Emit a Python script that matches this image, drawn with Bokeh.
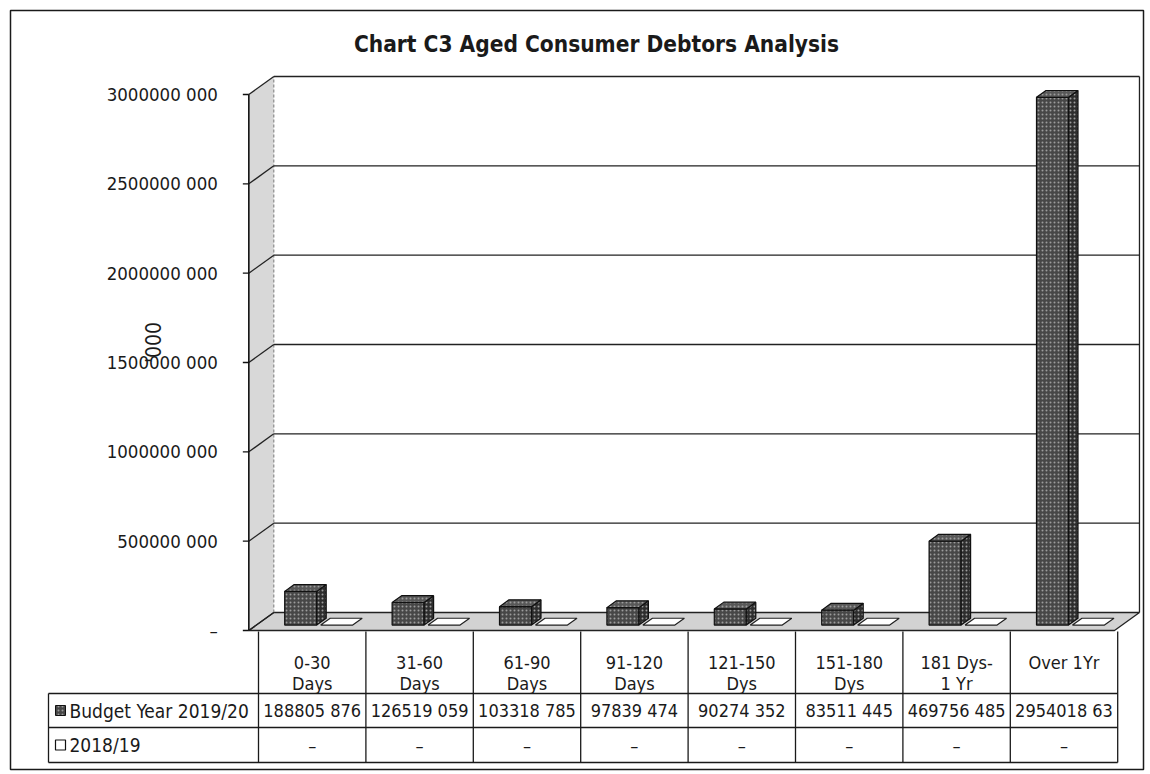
from math import pi

from bokeh.plotting import figure
from bokeh.models import Range1d
from bokeh.core.properties import value
from bokeh.embed import file_html
from bokeh.resources import INLINE

# ---- data -------------------------------------------------------------
categories = ["0-30\nDays", "31-60\nDays", "61-90\nDays", "91-120\nDays",
              "121-150\nDys", "151-180\nDys", "181 Dys-\n1 Yr", "Over 1Yr"]
budget_2019_20 = [188805876, 126519059, 103318785, 97839474,
                  90274352, 83511445, 469756485, 2954018630]
prior_2018_19 = [0, 0, 0, 0, 0, 0, 0, 0]
y_ticks = [0, 500000000, 1000000000, 1500000000,
           2000000000, 2500000000, 3000000000]
series_names = ["Budget Year 2019/20", "2018/19"]
title_text = "Chart C3 Aged Consumer Debtors Analysis"
axis_title = "'000"

FONT = value("DejaVu Sans Condensed")
CELL_CHARS = 10  # data-table cells show at most this many characters


def fmt(v):
    """Accounting style: thousands split off by a space, zero as a dash."""
    if v == 0:
        return "\u2013"
    return f"{v // 1000} {v % 1000:03d}"


# ---- page geometry ----------------------------------------------------
W, H = 1150, 774
CAT_PX = 107.4      # pixels per category slot
CAT0_PX = 311.7     # pixel x of the first category centre
ZERO_PX = 630       # pixel y of the value 0 on the front plane
TOP_PX = 94         # pixel y of the top tick on the front plane
VMAX = y_ticks[-1]
YPX = (ZERO_PX - TOP_PX) / VMAX


def ux(px):
    return px / CAT_PX


def uy(px):
    return px / YPX


DEPTH_X, DEPTH_Y = ux(25), uy(18)   # 3-D depth of the plot box
AX = -0.59                            # front axis position (category units)
RX = 7.47                             # right end of the floor
F1, F2 = 0.30, 0.68                   # depth fractions of the column slab

p = figure(width=W, height=H,
           x_range=Range1d(-CAT0_PX / CAT_PX, (W - CAT0_PX) / CAT_PX),
           y_range=Range1d(-(H - ZERO_PX) / YPX, ZERO_PX / YPX),
           x_axis_type=None, y_axis_type=None,
           toolbar_location=None, output_backend="svg",
           min_border=0, outline_line_color=None,
           background_fill_color="white", border_fill_color="white")
p.extra_x_ranges = {"px": Range1d(0, W)}
p.extra_y_ranges = {"px": Range1d(H, 0)}
PX = dict(x_range_name="px", y_range_name="px")

# ---- outer chart border ----------------------------------------------
p.quad(left=[10], right=[1143], top=[10], bottom=[769], fill_color=None,
       line_color="#1a1a1a", line_width=1.5, **PX)

# ---- walls and floor -------------------------------------------------
p.patch([AX, AX, AX + DEPTH_X, AX + DEPTH_X],
        [0, VMAX, VMAX + DEPTH_Y, DEPTH_Y],
        fill_color="#d8d8d8", line_color=None)
p.patch([AX + DEPTH_X, RX + DEPTH_X, RX + DEPTH_X, AX + DEPTH_X],
        [DEPTH_Y, DEPTH_Y, VMAX + DEPTH_Y, VMAX + DEPTH_Y],
        fill_color="white", line_color=None)
p.patch([AX, RX, RX + DEPTH_X, AX + DEPTH_X],
        [0, 0, DEPTH_Y, DEPTH_Y],
        fill_color="#d2d2d2", line_color="#222222", line_width=1.3)
# back wall edges
p.segment(x0=[AX + DEPTH_X], y0=[DEPTH_Y], x1=[AX + DEPTH_X],
          y1=[VMAX + DEPTH_Y], line_color="#777777", line_dash="3 2")
p.segment(x0=[RX + DEPTH_X], y0=[DEPTH_Y], x1=[RX + DEPTH_X],
          y1=[VMAX + DEPTH_Y], line_color="#222222", line_width=1.3)

# gridlines on the back wall and the side wall
grid_vals = y_ticks[1:]
p.segment(x0=[AX + DEPTH_X] * len(grid_vals), y0=[v + DEPTH_Y for v in grid_vals],
          x1=[RX + DEPTH_X] * len(grid_vals), y1=[v + DEPTH_Y for v in grid_vals],
          line_color="#222222", line_width=1.3)
p.segment(x0=[AX] * len(y_ticks), y0=y_ticks,
          x1=[AX + DEPTH_X] * len(y_ticks), y1=[v + DEPTH_Y for v in y_ticks],
          line_color="#222222", line_width=1.3)

# value axis
p.segment(x0=[AX], y0=[0], x1=[AX], y1=[VMAX], line_color="#111111",
          line_width=1.6)
p.segment(x0=[AX - ux(6)] * len(y_ticks), y0=y_ticks,
          x1=[AX] * len(y_ticks), y1=y_ticks, line_color="#111111",
          line_width=1.3)
p.text(x=[AX - ux(31)] * len(y_ticks), y=y_ticks,
       text=[fmt(v) for v in y_ticks], text_align="right",
       text_baseline="middle", text_font=FONT, text_font_size="18.5px",
       text_color="#1a1a1a")
p.text(x=[153], y=[342], text=[axis_title], angle=pi / 2,
       text_align="center", text_baseline="middle", text_font=FONT,
       text_font_size="21px", text_color="#1a1a1a", **PX)


# ---- 3-D columns -----------------------------------------------------
def slab(c, v, l_px, r_px):
    L, R = c + ux(l_px), c + ux(r_px)
    x1, y1 = F1 * DEPTH_X, F1 * DEPTH_Y
    x2, y2 = F2 * DEPTH_X, F2 * DEPTH_Y
    front = ([L + x1, R + x1, R + x1, L + x1], [y1, y1, v + y1, v + y1])
    side = ([R + x1, R + x2, R + x2, R + x1], [y1, y2, v + y2, v + y1])
    top = ([L + x1, R + x1, R + x2, L + x2], [v + y1, v + y1, v + y2, v + y2])
    return front, side, top


fronts, sides, tops, plates = [], [], [], []
for i, (vb, vp) in enumerate(zip(budget_2019_20, prior_2018_19)):
    f, s, t = slab(i, vb, -35, -3)
    fronts.append(f)
    sides.append(s)
    tops.append(t)
    plates.append(slab(i, vp, 1, 33)[2])

hatch = dict(hatch_pattern="dot", hatch_color="#9c9c9c", hatch_scale=4,
             hatch_weight=1.2)
p.patches([f[0] for f in fronts], [f[1] for f in fronts],
          fill_color="#474747", line_color="#111111", line_width=1.2, **hatch)
p.patches([s[0] for s in sides], [s[1] for s in sides],
          fill_color="#2e2e2e", line_color="#111111", line_width=1.2, **hatch)
p.patches([t[0] for t in tops], [t[1] for t in tops],
          fill_color="#585858", line_color="#111111", line_width=1.2, **hatch)
p.patches([t[0] for t in plates], [t[1] for t in plates],
          fill_color="white", line_color="#222222", line_width=1.2)

# ---- data table ------------------------------------------------------
TABLE_TOP, ROW1, ROW2, TABLE_BOTTOM = 631, 693, 727, 762
LABEL_LEFT = 48
RIGHT_PX = CAT0_PX + (len(categories) - 0.5) * CAT_PX
bounds = [i - 0.5 for i in range(len(categories) + 1)]
p.segment(x0=bounds, y0=[TABLE_TOP] * len(bounds), x1=bounds,
          y1=[TABLE_BOTTOM] * len(bounds), line_color="#1a1a1a",
          line_width=1.3, y_range_name="px")
p.segment(x0=[LABEL_LEFT] * 3, y0=[ROW1, ROW2, TABLE_BOTTOM],
          x1=[RIGHT_PX] * 3, y1=[ROW1, ROW2, TABLE_BOTTOM],
          line_color="#1a1a1a", line_width=1.3, **PX)
p.segment(x0=[LABEL_LEFT], y0=[ROW1], x1=[LABEL_LEFT], y1=[TABLE_BOTTOM],
          line_color="#1a1a1a", line_width=1.3, **PX)

# category headings (one or two lines each)
hx, hy, ht = [], [], []
for i, lab in enumerate(categories):
    for k, line in enumerate(lab.split("\n")):
        hx.append(i)
        hy.append(662 + 21 * k)
        ht.append(line)
p.text(x=hx, y=hy, text=ht, text_align="center", text_baseline="middle",
       text_font=FONT, text_font_size="18px", text_color="#1a1a1a",
       y_range_name="px")

# series rows
row_mid = [(ROW1 + ROW2) / 2, (ROW2 + TABLE_BOTTOM) / 2]
for series, mid in zip([budget_2019_20, prior_2018_19], row_mid):
    p.text(x=list(range(len(series))), y=[mid] * len(series),
           text=[fmt(v)[:CELL_CHARS] for v in series], text_align="center",
           text_baseline="middle", text_font=FONT, text_font_size="18px",
           text_color="#1a1a1a", y_range_name="px")

p.quad(left=[55], right=[65], top=[row_mid[0] - 5], bottom=[row_mid[0] + 5],
       fill_color="#474747", line_color="#111111", **hatch, **PX)
p.quad(left=[55], right=[65], top=[row_mid[1] - 5], bottom=[row_mid[1] + 5],
       fill_color="white", line_color="#111111", line_width=1.2, **PX)
p.text(x=[69, 69], y=row_mid, text=series_names, text_align="left",
       text_baseline="middle", text_font=FONT, text_font_size="19px",
       text_color="#1a1a1a", **PX)

# ---- title -----------------------------------------------------------
p.text(x=[596], y=[43], text=[title_text], text_align="center",
       text_baseline="middle", text_font=FONT, text_font_size="22.5px",
       text_font_style="bold", text_color="#1a1a1a", **PX)

open("out.html", "w").write(file_html(p, INLINE))
